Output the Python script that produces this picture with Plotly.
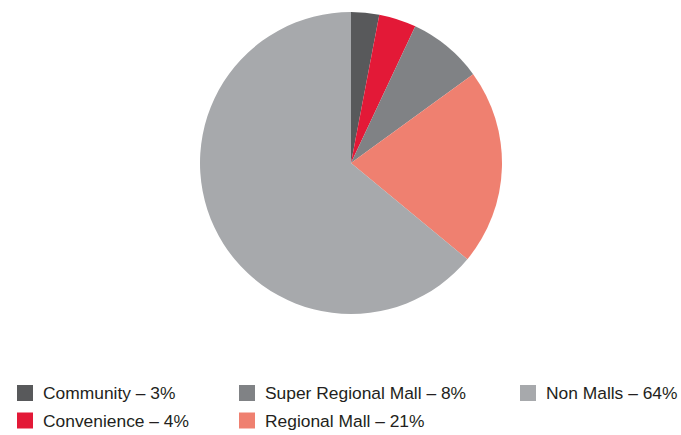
import plotly.graph_objects as go

labels = ["Community", "Convenience", "Super Regional Mall", "Regional Mall", "Non Malls"]
values = [3, 4, 8, 21, 64]
colors = ["#58595b", "#e31937", "#808285", "#ef8070", "#a7a9ac"]

W, H = 681, 435

fig = go.Figure()
fig.add_trace(go.Pie(
    labels=labels, values=values, sort=False, direction="clockwise", rotation=0,
    marker=dict(colors=colors, line=dict(width=0)),
    textinfo="none", showlegend=False,
    domain=dict(x=[200 / W, 502 / W], y=[(H - 314) / H, (H - 12) / H]),
))

# legend layout (column-major): columns at these pixel x positions, rows at these y centers
col_x = [17, 239, 520]
row_y = [393, 420.5]
sq = 16
shapes = []
annotations = []
for i, (lab, val, col) in enumerate(zip(labels, values, colors)):
    c, r = divmod(i, 2)
    x0 = col_x[c]
    yc = row_y[r]
    shapes.append(dict(type="rect", xref="paper", yref="paper",
                       x0=x0 / W, x1=(x0 + sq) / W,
                       y0=(H - yc - sq / 2) / H, y1=(H - yc + sq / 2) / H,
                       fillcolor=col, line=dict(width=0)))
    annotations.append(dict(xref="paper", yref="paper", x=(x0 + sq + 8) / W, y=(H - yc) / H,
                            xanchor="left", yanchor="middle", showarrow=False,
                            text=f"{lab} – {val}%",
                            font=dict(family="Liberation Sans, Arial", size=17.4, color="#231f20")))

fig.update_layout(
    width=W, height=H, margin=dict(l=0, r=0, t=0, b=0),
    paper_bgcolor="white", plot_bgcolor="white",
    shapes=shapes, annotations=annotations,
)
fig.write_html("out.html", config={"displayModeBar": False},
               post_script="document.body.style.margin='0';document.body.style.overflow='hidden';")
